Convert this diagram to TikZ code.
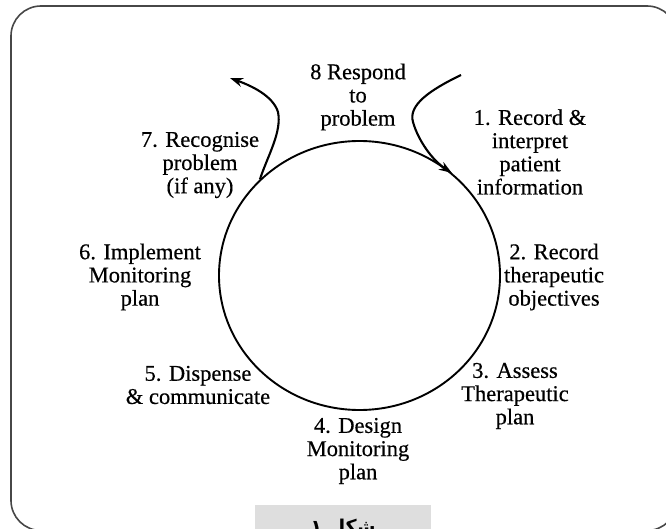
\documentclass[tikz,border=0pt]{standalone}
\usepackage{fontspec}
\setmainfont{Liberation Serif}[FakeBold=0.4]
\newfontfamily\arabicfont[Script=Arabic]{DejaVu Sans}
\TeXXeTstate=1
\usetikzlibrary{shapes.geometric,arrows.meta}
\tikzset{
  lbl/.style={align=center,inner sep=0pt,font=\fontsize{22.5}{23.2}\selectfont},
  cyc/.style={draw,ellipse,line width=1.9pt,inner sep=0pt,minimum width=281pt,minimum height=269pt},
  flow/.style={line width=2.1pt,-{Stealth[length=13pt,width=9pt]}},
  frame/.style={draw=black!72,line width=1.6pt,rounded corners=30pt}
}
\begin{document}
\begin{tikzpicture}[x=1pt,y=-1pt]
\useasboundingbox (0,0) rectangle (666,529);
\draw[frame] (11,6) rectangle (677,530.5);
\node[fill=black!13,minimum width=176pt,minimum height=40pt,inner sep=0pt] (figbox) at (343,525) {};
\node[font=\arabicfont\bfseries\fontsize{19}{22}\selectfont,inner sep=0pt,anchor=north] (figlbl) at (343,519) {\beginR شکل ۱\endR};
\node[cyc] (cyc) at (359.5,275.5) {};
\coordinate (inA) at (461,75);
\coordinate (outB) at (230,78);
\draw[flow] (inA) .. controls (430,90) and (408,105) .. (413,122) .. controls (418,140) and (432,160) .. (cyc.48.7);
\draw[flow] (cyc.136.7) .. controls (268,155) and (282,132) .. (278,112) .. controls (273,96) and (252,86) .. (outB);
\node[lbl] (n8) at (358,97) {8 Respond\\to\\problem};
\node[lbl] (n1) at (530,152) {1. Record \&\\interpret\\patient\\information};
\node[lbl] (n2) at (554,277) {2. Record\\therapeutic\\objectives};
\node[lbl] (n3) at (515,396) {3. Assess\\Therapeutic\\plan};
\node[lbl] (n4) at (358,451) {4. Design\\Monitoring\\plan};
\node[lbl] (n5) at (198,385) {5. Dispense\\\& communicate};
\node[lbl] (n6) at (140,277) {6. Implement\\Monitoring\\plan};
\node[lbl] (n7) at (200,165) {7. Recognise\\problem\\(if any)};
\end{tikzpicture}
\end{document}
